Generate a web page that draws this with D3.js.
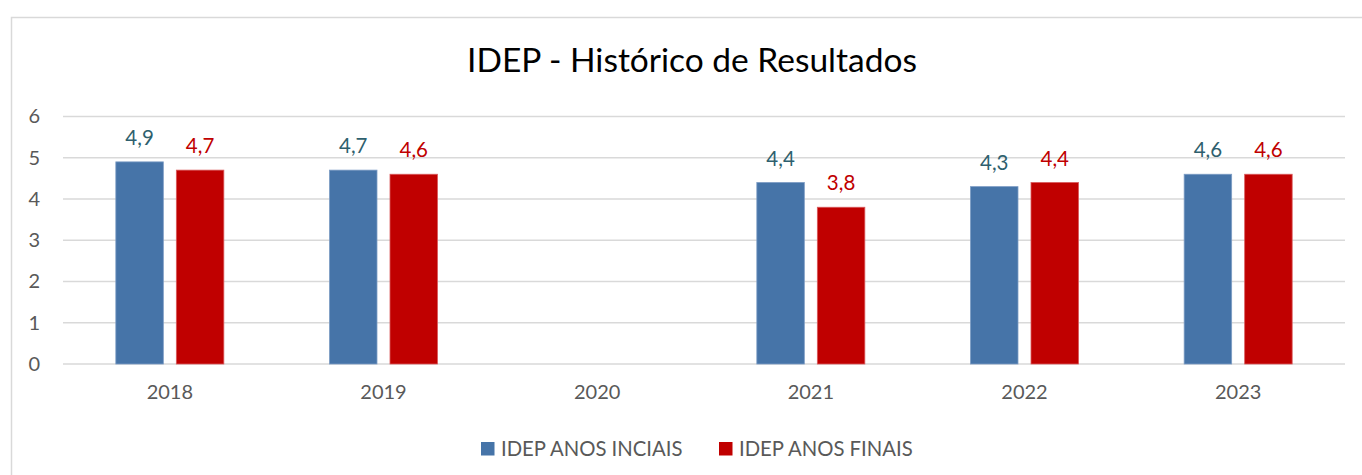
<!DOCTYPE html>
<html>
<head>
<meta charset="utf-8">
<script src="https://cdn.jsdelivr.net/npm/d3@7"></script>
<style>
  body { margin: 0; background: #fff; }
  svg { display: block; font-family: Lato, "Open Sans", sans-serif; }
</style>
</head>
<body>
<svg id="chart"></svg>
<script>
// dados do gráfico
const years = ["2018", "2019", "2020", "2021", "2022", "2023"];
const anosIniciais = [4.9, 4.7, null, 4.4, 4.3, 4.6];
const anosFinais = [4.7, 4.6, null, 3.8, 4.4, 4.6];
const seriesNames = ["IDEP ANOS INCIAIS", "IDEP ANOS FINAIS"];
const yTicks = [0, 1, 2, 3, 4, 5, 6];

const barColors = ["#4674A8", "#C00000"];
const labelColors = ["#2E5F6E", "#C00000"];

const width = 1362, height = 475;
const margin = { top: 116.5, right: 17, bottom: 111, left: 63 };

const svg = d3.select("#chart")
    .attr("width", width)
    .attr("height", height);

// borda do gráfico
svg.append("rect")
    .attr("x", 11.5).attr("y", 17.5)
    .attr("width", 1400).attr("height", 500)
    .attr("fill", "none")
    .attr("stroke", "#D9D9D9")
    .attr("stroke-width", 1.5);

const x0 = d3.scaleBand()
    .domain(years)
    .range([margin.left, width - margin.right])
    .padding(0);

const x1 = d3.scaleBand()
    .domain(seriesNames)
    .range([0, x0.bandwidth()])
    .paddingInner(0.215)
    .paddingOuter(0.873);

const y = d3.scaleLinear()
    .domain([0, 6])
    .range([height - margin.bottom, margin.top]);

const fmt = d3.formatLocale({ decimal: ",", thousands: ".", grouping: [3], currency: ["R$", ""] }).format(".1f");

// linhas de grade
svg.append("g")
    .selectAll("line")
    .data(yTicks)
    .join("line")
    .attr("x1", margin.left)
    .attr("x2", width - margin.right)
    .attr("y1", d => y(d))
    .attr("y2", d => y(d))
    .attr("stroke", "#D9D9D9")
    .attr("stroke-width", 1.5);

// eixo y
const yAxis = svg.append("g")
    .attr("transform", `translate(${margin.left - 23},0)`)
    .call(d3.axisLeft(y).tickValues(yTicks).tickFormat(d3.format("d")).tickSize(0).tickPadding(0));
yAxis.select(".domain").remove();
yAxis.selectAll("text")
    .attr("fill", "#595959")
    .style("font-size", "20px")
    .style("font-family", "Lato, 'Open Sans', sans-serif");

// eixo x
const xAxis = svg.append("g")
    .attr("transform", `translate(0,${y(0)})`)
    .call(d3.axisBottom(x0).tickSize(0).tickPadding(21));
xAxis.select(".domain").remove();
xAxis.selectAll("text")
    .attr("fill", "#595959")
    .style("font-size", "20px")
    .style("font-family", "Lato, 'Open Sans', sans-serif");

const rows = years.map((yr, i) => ({
    year: yr,
    values: [anosIniciais[i], anosFinais[i]]
}));

const groups = svg.append("g")
    .selectAll("g")
    .data(rows)
    .join("g")
    .attr("transform", d => `translate(${x0(d.year)},0)`);

const cells = groups.selectAll("g")
    .data(d => d.values.map((v, k) => ({ v, k })).filter(c => c.v != null))
    .join("g");

cells.append("rect")
    .attr("x", c => x1(seriesNames[c.k]))
    .attr("y", c => y(c.v))
    .attr("width", x1.bandwidth())
    .attr("height", c => y(0) - y(c.v))
    .attr("fill", c => barColors[c.k])
    .attr("stroke", c => c.k === 0 ? "#7C9CC4" : "#D9595B")
    .attr("stroke-width", 0.8);

cells.append("text")
    .attr("x", c => x1(seriesNames[c.k]) + x1.bandwidth() / 2)
    .attr("y", c => y(c.v) - 17)
    .attr("text-anchor", "middle")
    .attr("fill", c => labelColors[c.k])
    .style("font-size", "20.5px")
    .text(c => fmt(c.v));

// título
svg.append("text")
    .attr("x", 692)
    .attr("y", 72)
    .attr("text-anchor", "middle")
    .attr("fill", "#000")
    .style("font-size", "33.5px")
    .text("IDEP - Histórico de Resultados");

// legenda
const legendX = [481, 719];
const legend = svg.append("g")
    .selectAll("g")
    .data(seriesNames)
    .join("g")
    .attr("transform", (d, i) => `translate(${legendX[i]},442)`);

legend.append("rect")
    .attr("width", 13.5)
    .attr("height", 13.5)
    .attr("fill", (d, i) => barColors[i]);

legend.append("text")
    .attr("x", 20)
    .attr("y", 14)
    .attr("fill", "#595959")
    .style("font-size", "20.3px")
    .text(d => d);
</script>
</body>
</html>
